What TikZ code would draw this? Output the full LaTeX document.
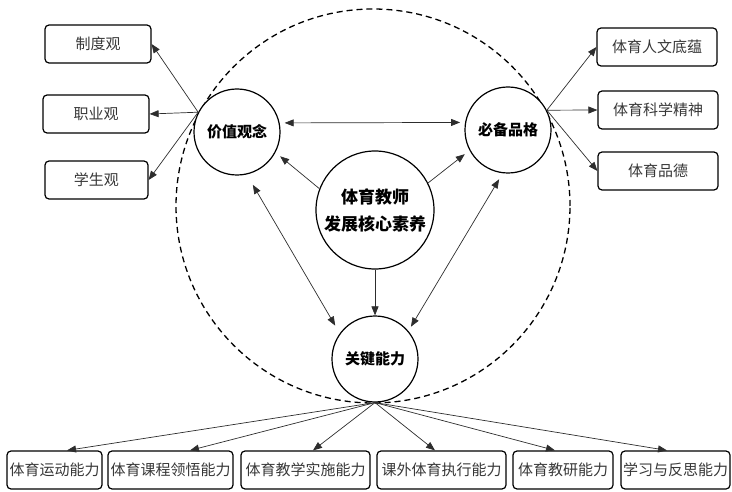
\documentclass[tikz,border=0pt]{standalone}
\usepackage{fontspec}
\setmainfont{Noto Sans CJK SC}
\usetikzlibrary{arrows.meta}
\definecolor{box-text}{RGB}{55, 55, 55}
\definecolor{line-gray}{RGB}{45, 45, 45}

\begin{document}
\begin{tikzpicture}[x=1pt, y=-1pt,
    box/.style={draw=black, line width=1.2pt, rounded corners=4pt, minimum height=38pt, inner sep=1pt, text=box-text, font=\fontsize{15}{18}\selectfont},
    ring/.style={draw=black, fill=white, line width=1.2pt, circle, inner sep=0pt, font=\bfseries\fontsize{15}{18}\selectfont},
    arr/.style={-{Triangle[length=9pt, width=7pt]}, line width=0.7pt, draw=line-gray},
    biarr/.style={{Triangle[length=9pt, width=7pt]}-{Triangle[length=9pt, width=7pt]}, line width=0.7pt, draw=line-gray}]
                \useasboundingbox (0, 0) rectangle (732, 492);
                \draw[line width=1.3pt, dash pattern=on 6pt off 4pt] (373, 206) circle[radius=197pt];

                \node[ring, minimum size=86pt] (jz) at (237, 132) {价值观念};
                \node[ring, minimum size=86pt] (bp) at (508, 130) {必备品格};
                \node[ring, minimum size=118pt, align=center, font=\bfseries\fontsize{17}{27}\selectfont] (core) at (375, 210) {体育教师\\发展核心素养};
                \node[ring, minimum size=86pt] (gj) at (375, 359) {关键能力};

                \node[box, minimum width=106pt] (zdg) at (98, 44) {制度观};
                \node[box, minimum width=106pt] (zyg) at (96, 114) {职业观};
                \node[box, minimum width=103pt] (xsg) at (96.5, 180) {学生观};

                \node[box, minimum width=120pt] (rwdy) at (657, 47) {体育人文底蕴};
                \node[box, minimum width=120pt] (kxjs) at (658, 110) {体育科学精神};
                \node[box, minimum width=120pt] (typd) at (658, 171) {体育品德};

                \node[box, minimum width=95pt] (ydnl) at (54.5, 470) {体育运动能力};
                \node[box, minimum width=125pt] (kcly) at (170.5, 470) {体育课程领悟能力};
                \node[box, minimum width=129pt] (jxss) at (305.5, 470) {体育教学实施能力};
                \node[box, minimum width=129pt] (kwzx) at (441.5, 470) {课外体育执行能力};
                \node[box, minimum width=100pt] (jynl) at (563, 470) {体育教研能力};
                \node[box, minimum width=109pt] (fsnl) at (675.5, 470) {学习与反思能力};

                \draw[arr] (jz.153) -- (zdg.east);
                \draw[arr] (jz.153) -- (zyg.east);
                \draw[arr] (jz.153) -- (xsg.east);
                \draw[arr] (bp.27) -- (rwdy.west);
                \draw[arr] (bp.27) -- (kxjs.west);
                \draw[arr] (bp.27) -- (typd.west);

                \draw[biarr, shorten <=5pt, shorten >=5pt] (jz.12) -- (bp.170);
                \draw[arr, shorten >=6pt] (core.159) -- (jz.-28);
                \draw[arr, shorten >=6pt] (core.27) -- (bp.208);
                \draw[arr] (core.south) -- (gj.north);
                \draw[biarr, shorten <=12pt, shorten >=9pt] (jz.283) -- (gj.144);
                \draw[biarr, shorten <=7pt, shorten >=5pt] (bp.263) -- (gj.40);

                \draw[arr] (gj.south) -- ([xshift=12.5pt]ydnl.north);
                \draw[arr] (gj.south) -- ([xshift=19.5pt]kcly.north);
                \draw[arr] (gj.south) -- ([xshift=7.5pt]jxss.north);
                \draw[arr] (gj.south) -- ([xshift=-6.5pt]kwzx.north);
                \draw[arr] (gj.south) -- ([xshift=-8pt]jynl.north);
                \draw[arr] (gj.south) -- ([xshift=-8.5pt]fsnl.north);
            \end{tikzpicture}
\end{document}
